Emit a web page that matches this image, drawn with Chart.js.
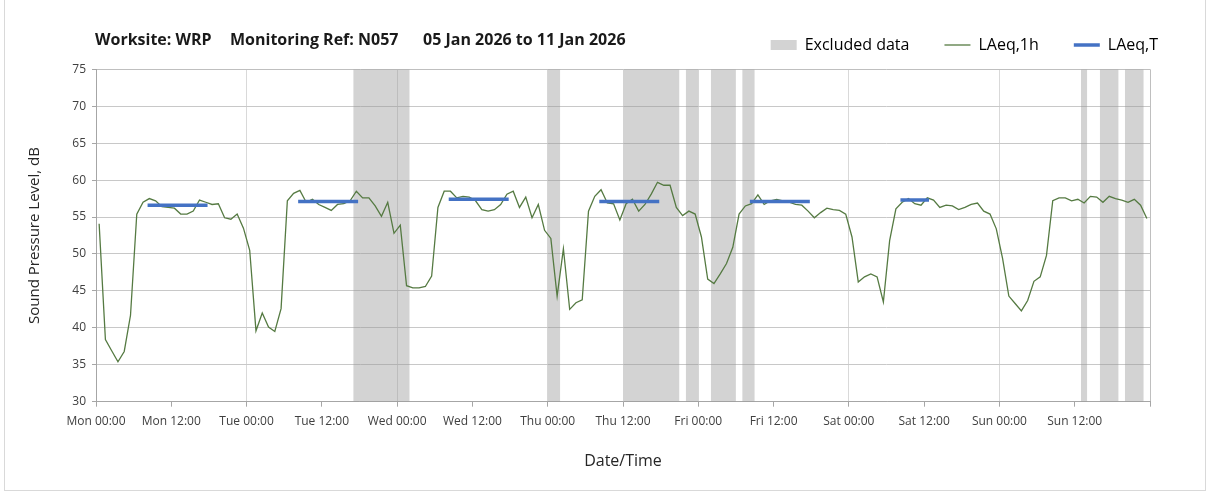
<!DOCTYPE html>
<html>
<head>
<meta charset="utf-8">
<script src="https://cdn.jsdelivr.net/npm/chart.js@4.4.1/dist/chart.umd.min.js"></script>
<style>
  html, body { margin: 0; padding: 0; background: #fff; }
  #wrap { position: relative; width: 1208px; height: 493px; }
  #frame { position: absolute; left: 4px; top: -1px; width: 1200px; height: 490px; border: 1px solid #d9d9d9; pointer-events: none; }
  #heading { position: absolute; top: 29px; left: 0; font: bold 16px 'Open Sans'; line-height: 20px; color: #1a1a1a; }
  #heading span { position: absolute; white-space: nowrap; }
</style>
</head>
<body>
<div id="wrap">
  <canvas id="noise-chart"></canvas>
  <div id="heading">
    <span style="left:95px">Worksite: WRP</span>
    <span style="left:230px">Monitoring Ref: N057</span>
    <span style="left:423px">05 Jan 2026 to 11 Jan 2026</span>
  </div>
  <div id="frame"></div>
</div>
<script>
// LAeq,1h - one value per hour, Mon 00:00 to Sun 24:00
const hourlyLevels = [
  54.1, 38.4, 36.9, 35.4, 36.8, 41.7, 55.4, 57.0, 57.5, 57.2, 56.4, 56.3,
  56.2, 55.4, 55.4, 55.8, 57.3, 57.0, 56.7, 56.8, 54.9, 54.7, 55.4, 53.5,
  50.5, 39.6, 42.0, 40.1, 39.5, 42.6, 57.2, 58.2, 58.6, 57.0, 57.4, 56.7,
  56.3, 55.9, 56.7, 56.8, 57.2, 58.5, 57.6, 57.6, 56.5, 55.1, 57.0, 52.8,
  53.9, 45.7, 45.4, 45.4, 45.6, 47.0, 56.3, 58.5, 58.5, 57.6, 57.8, 57.7,
  57.2, 56.0, 55.8, 56.0, 56.7, 58.1, 58.5, 56.3, 57.7, 54.9, 56.7, 53.2,
  52.1, 44.3, 50.7, 42.5, 43.4, 43.8, 55.8, 57.8, 58.7, 56.9, 56.8, 54.6,
  56.8, 57.4, 55.8, 56.7, 58.1, 59.7, 59.3, 59.3, 56.3, 55.2, 55.8, 55.4,
  52.3, 46.6, 46.0, 47.3, 48.7, 50.9, 55.4, 56.5, 56.8, 58.0, 56.7, 57.2,
  57.4, 57.2, 57.0, 56.7, 56.6, 55.8, 54.9, 55.6, 56.2, 56.0, 55.9, 55.4,
  52.3, 46.2, 46.9, 47.3, 46.9, 43.5, 51.8, 56.1, 57.0, 57.5, 56.8, 56.6,
  57.6, 57.3, 56.3, 56.6, 56.5, 56.0, 56.3, 56.7, 56.9, 55.8, 55.4, 53.4,
  49.4, 44.3, 43.3, 42.3, 43.7, 46.3, 46.9, 49.8, 57.2, 57.6, 57.6, 57.2,
  57.4, 56.9, 57.8, 57.7, 57.0, 57.8, 57.5, 57.3, 57.0, 57.4, 56.6, 54.8
];

// LAeq,T - daytime periods (hours from Mon 00:00)
const periodStart = [8.5, 32.5, 56.5, 80.5, 104.5, 128.5];
const periodEnd = [17.5, 41.5, 65.5, 89.5, 113.5, 132.5];
const periodLevels = [56.6, 57.1, 57.4, 57.1, 57.1, 57.3];

// excluded data windows (hours from Mon 00:00)
const excludedStart = [41, 72, 84, 94, 98, 103, 157, 160, 164];
const excludedEnd = [50, 74, 93, 96, 102, 105, 158, 163, 167];

const xTickLabels = [
  'Mon 00:00', 'Mon 12:00', 'Tue 00:00', 'Tue 12:00', 'Wed 00:00', 'Wed 12:00',
  'Thu 00:00', 'Thu 12:00', 'Fri 00:00', 'Fri 12:00', 'Sat 00:00', 'Sat 12:00',
  'Sun 00:00', 'Sun 12:00', ''
];

const Y_MIN = 30;
const Y_MAX = 75;
const HOURS = 168;

const GREEN = '#557a42';
const BLUE = '#4472c4';
const GREY_BAND = 'rgba(150,150,150,0.42)';
const FONT = 'Open Sans';

const hourlyPoints = hourlyLevels.map((v, i) => ({ x: i + 0.5, y: v }));

const periodPoints = [];
periodStart.forEach((s, i) => {
    periodPoints.push({ x: s, y: periodLevels[i] });
    periodPoints.push({ x: periodEnd[i], y: periodLevels[i] });
    periodPoints.push({ x: periodEnd[i], y: null });
});

const excludedPoints = [];
excludedStart.forEach((s, i) => {
    excludedPoints.push({ x: s, y: Y_MAX });
    excludedPoints.push({ x: excludedEnd[i], y: Y_MAX });
    excludedPoints.push({ x: excludedEnd[i], y: null });
});

const legendItems = [
    { text: 'Excluded data', fillStyle: '#d3d3d3', strokeStyle: '#d3d3d3', lineWidth: 0, pointStyle: 'rect', datasetIndex: 0 },
    { text: 'LAeq,1h', fillStyle: GREEN, strokeStyle: GREEN, lineWidth: 1.3, pointStyle: 'line', datasetIndex: 1 },
    { text: 'LAeq,T', fillStyle: BLUE, strokeStyle: BLUE, lineWidth: 3.5, pointStyle: 'line', datasetIndex: 2 }
];

const ctx = document.getElementById('noise-chart').getContext('2d');

new Chart(ctx, {
    type: 'line',
    data: {
        datasets: [
            {
                label: 'Excluded data',
                data: excludedPoints,
                borderWidth: 0,
                backgroundColor: GREY_BAND,
                fill: 'start',
                pointRadius: 0,
                order: 3,
                xAxisID: 'x',
                yAxisID: 'y'
            },
            {
                label: 'LAeq,1h',
                data: hourlyPoints,
                borderColor: GREEN,
                borderWidth: 1.3,
                pointRadius: 0,
                tension: 0,
                fill: false,
                order: 2,
                xAxisID: 'x',
                yAxisID: 'y'
            },
            {
                label: 'LAeq,T',
                data: periodPoints,
                borderColor: BLUE,
                borderWidth: 3.5,
                borderCapStyle: 'square',
                pointRadius: 0,
                fill: false,
                order: 1,
                xAxisID: 'x',
                yAxisID: 'y'
            }
        ]
    },
    options: {
        animation: false,
        responsive: true,
        maintainAspectRatio: false,
        layout: { padding: { top: 2, right: 15, bottom: 0, left: 0 } },
        plugins: {
            tooltip: { enabled: false },
            legend: {
                position: 'top',
                align: 'end',
                labels: {
                    usePointStyle: true,
                    pointStyleWidth: 26,
                    boxHeight: 10,
                    padding: 35,
                    color: '#262626',
                    font: { family: FONT, size: 16 },
                    generateLabels: () => legendItems
                }
            }
        },
        scales: {
            x: {
                type: 'linear',
                min: 0,
                max: HOURS,
                ticks: {
                    stepSize: 12,
                    autoSkip: false,
                    maxRotation: 0,
                    padding: 8,
                    color: '#404040',
                    font: { family: FONT, size: 12 },
                    callback: v => xTickLabels[v / 12] || ''
                },
                grid: {
                    color: c => {
                        const v = c.tick ? c.tick.value : -1;
                        if (v === HOURS) return '#bfbfbf';
                        return v % 24 === 0 ? '#d9d9d9' : 'rgba(0,0,0,0)';
                    },
                    tickColor: '#a6a6a6',
                    tickLength: 5
                },
                border: { color: '#a6a6a6' },
                title: {
                    display: true,
                    text: 'Date/Time',
                    color: '#262626',
                    font: { family: FONT, size: 16 },
                    padding: { top: 0, bottom: 22 }
                },
                afterFit: s => { s.height = 91.3; }
            },
            xTop: {
                type: 'linear',
                position: 'top',
                grid: { display: false },
                ticks: { display: false },
                border: { display: false },
                afterFit: s => { s.height = 6.3; }
            },
            y: {
                type: 'linear',
                min: Y_MIN,
                max: Y_MAX,
                ticks: {
                    stepSize: 5,
                    padding: 6,
                    color: '#404040',
                    font: { family: FONT, size: 12 }
                },
                grid: {
                    color: c => (c.tick && c.tick.value === Y_MAX) ? '#bfbfbf' : '#c8c8c8',
                    tickColor: '#a6a6a6',
                    tickLength: 4
                },
                border: { color: '#a6a6a6' },
                title: {
                    display: true,
                    text: 'Sound Pressure Level, dB',
                    color: '#262626',
                    font: { family: FONT, size: 15 },
                    padding: { top: 26, bottom: 0 }
                },
                afterFit: s => { s.width = 96; }
            },
            yRight: {
                type: 'linear',
                position: 'right',
                grid: { display: false },
                ticks: { display: false },
                border: { display: false },
                afterFit: s => { s.width = 43; }
            }
        }
    }
});
</script>
</body>
</html>
